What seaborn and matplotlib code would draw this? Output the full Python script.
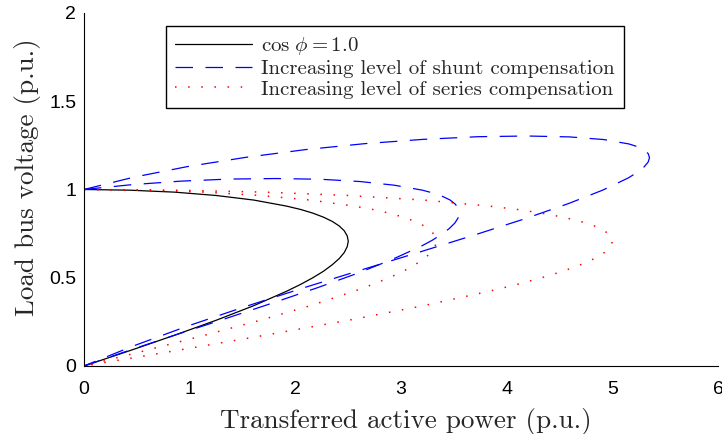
import matplotlib
matplotlib.use("Agg")
import matplotlib.pyplot as plt
import seaborn as sns
import pandas as pd

# ---- data ----
base_p = [0, .434, .855, 1.250, 1.607, 1.915, 2.048, 2.165, 2.266, 2.349, 2.415, 2.462, 2.490, 2.500,
          2.490, 2.462, 2.415, 2.349, 2.266, 2.165, 2.048, 1.915, 1.607, 1.250, .855, .434, 0]
base_v = [1.0, .996, .985, .966, .940, .906, .887, .866, .843, .819, .793, .766, .737, .707,
          .676, .643, .609, .574, .537, .500, .462, .423, .342, .259, .174, .087, 0]

shunt1_p = [0, .448, .909, 1.370, 1.816, 2.235, 2.613, 2.938, 3.202, 3.308, 3.395, 3.464, 3.512,
            3.541, 3.550, 3.539, 3.508, 3.456, 3.385, 3.296, 3.188, 2.920, 2.591, 2.211, 1.790,
            1.342, .881, .420, 0]
shunt1_v = [1.0, 1.027, 1.047, 1.059, 1.062, 1.058, 1.045, 1.024, .996, .979, .960, .940, .917,
            .893, .867, .839, .810, .779, .747, .713, .678, .605, .526, .444, .358,
            .269, .179, .087, 0]

shunt2_p = [0, .466, .981, 1.530, 2.096, 2.662, 3.210, 3.724, 4.189, 4.590,
            4.915, 5.154, 5.239, 5.300, 5.337, 5.349, 5.336, 5.298, 5.236, 5.150, 4.909, 4.582,
            4.180, 3.714, 3.199, 2.650, 2.084, 1.518, .970, .456, 0]
shunt2_v = [1.0, 1.069, 1.130, 1.182, 1.226, 1.260, 1.284, 1.299, 1.303, 1.298,
            1.283, 1.258, 1.242, 1.224, 1.203, 1.180, 1.155, 1.128, 1.098, 1.066, .997, .920,
            .836, .746, .650, .549, .444, .335, .224, .111, 0]

series1_p = [0, .579, 1.140, 1.667, 2.143, 2.553, 2.730, 2.887, 3.021, 3.132, 3.220, 3.283, 3.321, 3.333,
             3.321, 3.283, 3.220, 3.132, 3.021, 2.887, 2.730, 2.553, 2.143, 1.667, 1.140, .579, 0]
series1_v = [1.0, .996, .985, .966, .940, .906, .887, .866, .843, .819, .793, .766, .737, .707,
             .676, .643, .609, .574, .537, .500, .462, .423, .342, .259, .174, .087, 0]

series2_p = [0, .868, 1.710, 2.500, 3.214, 3.830, 4.096, 4.330, 4.532, 4.698, 4.830, 4.924, 4.981, 5.000,
             4.981, 4.924, 4.830, 4.698, 4.532, 4.330, 4.096, 3.830, 3.214, 2.500, 1.710, .868, 0]
series2_v = [1.0, .996, .985, .966, .940, .906, .887, .866, .843, .819, .793, .766, .737, .707,
             .676, .643, .609, .574, .537, .500, .462, .423, .342, .259, .174, .087, 0]

labels = [r"$\cos\,\phi = 1.0$",
          "Increasing level of shunt compensation",
          "Increasing level of series compensation"]
x_ticks = [0, 1, 2, 3, 4, 5, 6]
y_ticks = [0, 0.5, 1, 1.5, 2]
x_tick_labels = ["0", "1", "2", "3", "4", "5", "6"]
y_tick_labels = ["0", "0.5", "1", "1.5", "2"]

# ---- style ----
sns.set_style("white")
plt.rcParams["font.family"] = ["Liberation Sans", "DejaVu Sans"]
plt.rcParams["mathtext.fontset"] = "cm"

fig = plt.figure(figsize=(7.22, 4.34), dpi=100)
ax = fig.add_axes([0.1163, 0.1567, 0.8786, 0.8134])

dotted = (0, (1.0, 7.6))
dashed = (0, (14, 10))

curves = [
    (base_p, base_v, "black", "-", 0.9, labels[0]),
    (shunt1_p, shunt1_v, "#0000ff", dashed, 0.9, labels[1]),
    (shunt2_p, shunt2_v, "#0000ff", dashed, 0.9, "_nolegend_"),
    (series1_p, series1_v, "#ff0000", dotted, 1.1, labels[2]),
    (series2_p, series2_v, "#ff0000", dotted, 1.1, "_nolegend_"),
]
for p, v, col, ls, lw, lab in curves:
    df = pd.DataFrame({"P": p, "V": v})
    sns.lineplot(data=df, x="P", y="V", sort=False, estimator=None, ax=ax,
                 color=col, linestyle=ls, linewidth=lw, label=lab)

ax.set_xlim(0, 6)
ax.set_ylim(0, 2)
ax.set_xticks(x_ticks)
ax.set_xticklabels(x_tick_labels)
ax.set_yticks(y_ticks)
ax.set_yticklabels(y_tick_labels)
ax.tick_params(axis="x", direction="in", length=5, width=0.8, labelsize=14, pad=10.5, colors="black")
ax.tick_params(axis="y", direction="in", length=5, width=0.8, labelsize=14, pad=5.5, colors="black")

for s in ["top", "right"]:
    ax.spines[s].set_visible(False)
for s in ["left", "bottom"]:
    ax.spines[s].set_color("black")
    ax.spines[s].set_linewidth(0.8)

ax.set_xlabel("Transferred active power (p.u.)", family="cmr10", fontsize=19.5)
ax.set_ylabel("Load bus voltage (p.u.)", family="cmr10", fontsize=19.5)
ax.xaxis.set_label_coords(0.508, -0.118)
ax.yaxis.set_label_coords(-0.068, 0.535)

leg = ax.legend(loc="upper left", bbox_to_anchor=(166 / 722, 1 - 26 / 434),
                bbox_transform=fig.transFigure, borderaxespad=0,
                prop={"family": "cmr10", "size": 15}, frameon=True,
                fancybox=False, shadow=False, handlelength=3.7,
                handletextpad=0.4, labelspacing=0.1, borderpad=0.45)
leg.get_frame().set_edgecolor("black")
leg.get_frame().set_linewidth(1.0)
leg.get_frame().set_alpha(1)

fig.savefig("out.png", dpi=100)
